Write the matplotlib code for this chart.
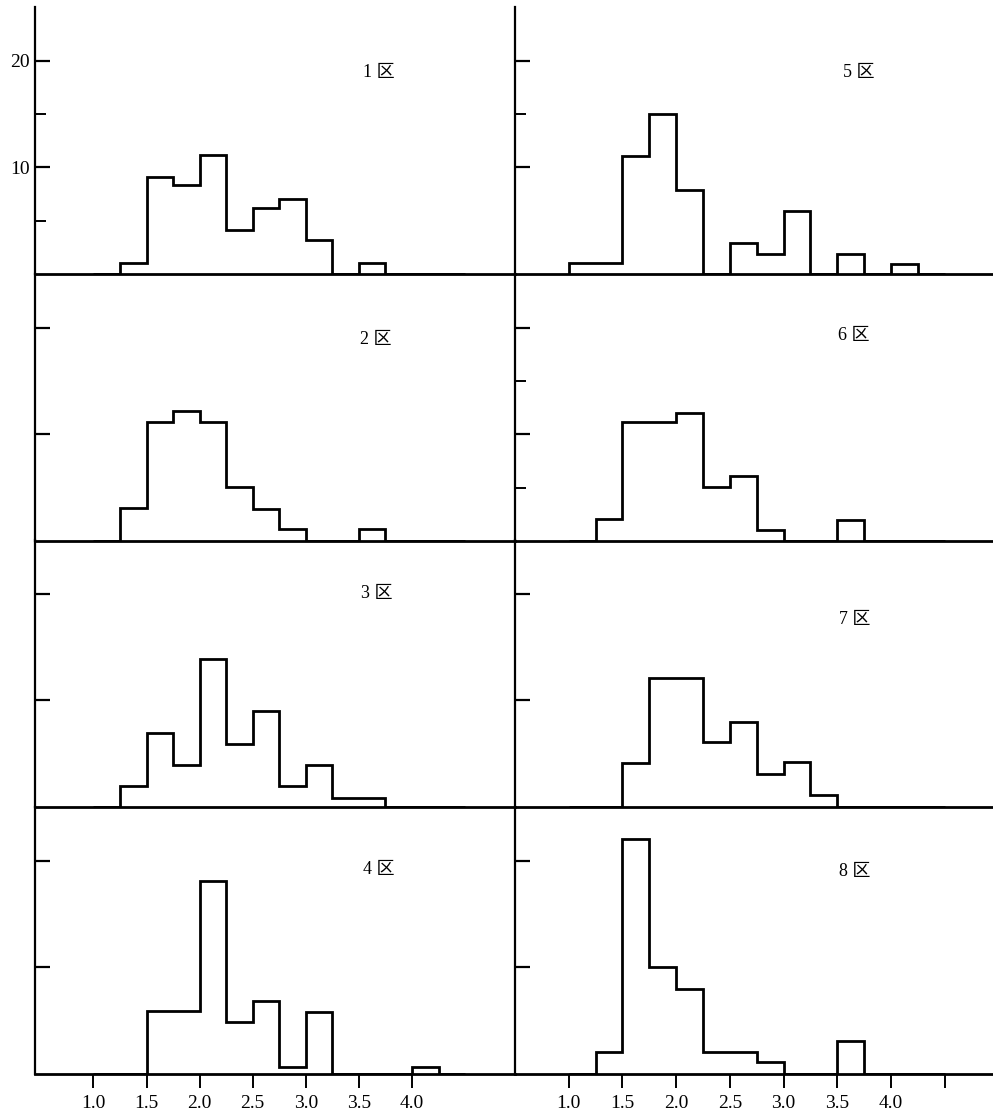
import matplotlib
matplotlib.use('Agg')
import matplotlib.pyplot as plt
import numpy as np

# size classes, 0.25 wide, from 1.0 to 4.5
edges = np.arange(1.0, 4.51, 0.25)

# frequency per class for each zone
zone_1 = [0, 1.0, 9.1, 8.3, 11.2, 4.1, 6.2, 7.0, 3.2, 0, 1.0, 0, 0, 0]
zone_2 = [0, 3.1, 11.2, 12.2, 11.2, 5.1, 3.0, 1.1, 0, 0, 1.1, 0, 0, 0]
zone_3 = [0, 2.0, 6.9, 3.9, 13.9, 5.9, 9.0, 2.0, 3.9, 0.85, 0.85, 0, 0, 0]
zone_4 = [0, 0, 5.9, 5.9, 18.1, 4.9, 6.8, 0.7, 5.8, 0, 0, 0, 0.7, 0]
zone_5 = [1.0, 1.0, 11.1, 15.0, 7.9, 0, 2.9, 1.9, 5.9, 0, 1.9, 0, 0.95, 0]
zone_6 = [0, 2.1, 11.2, 11.2, 12.0, 5.1, 6.1, 1.0, 0, 0, 2.0, 0, 0, 0]
zone_7 = [0, 0, 4.1, 12.1, 12.1, 6.1, 8.0, 3.1, 4.2, 1.1, 0, 0, 0, 0]
zone_8 = [0, 2.1, 22.0, 10.0, 8.0, 2.1, 2.1, 1.1, 0, 0, 3.05, 0, 0, 0]

zone_names = ['1 区', '2 区', '3 区', '4 区', '5 区', '6 区', '7 区', '8 区']

x_ticks = [1.0, 1.5, 2.0, 2.5, 3.0, 3.5, 4.0]
x_labels = ['1.0', '1.5', '2.0', '2.5', '3.0', '3.5', '4.0']
y_ticks = [10, 20]
y_labels = ['10', '20']

zones = [zone_1, zone_2, zone_3, zone_4, zone_5, zone_6, zone_7, zone_8]

# where the zone name sits inside each panel (data coords)
name_x = [3.54, 3.51, 3.52, 3.54, 3.55, 3.51, 3.52, 3.52]
name_y = [18.9, 18.9, 20.0, 19.2, 18.9, 19.3, 17.6, 19.0]
# short inner ticks at 5 / 15 where they were printed
minor_ticks = [[5, 15], [], [], [], [15], [5, 15], [], []]

W, H = 993, 1115
fig = plt.figure(figsize=(W / 100, H / 100), dpi=100)

serif = ['Liberation Serif', 'DejaVu Serif']
mixed = ['Liberation Serif', 'Noto Sans CJK SC']

baselines = [274, 541, 807, 1074]
row_h = 266.7
cols = [(35, 480, (0.45, 4.97)), (515, 478, (0.5, 4.95))]

for i, vals in enumerate(zones):
    c = i // 4
    r = i % 4
    x0, w, xlim = cols[c]
    ax = fig.add_axes([x0 / W, (H - baselines[r]) / H, w / W, row_h / H])
    ax.patch.set_alpha(0)

    ax.stairs(vals, edges, baseline=0, color='black', lw=2.0)

    ax.set_xlim(*xlim)
    ax.set_ylim(0, 25)

    ax.spines['top'].set_visible(False)
    ax.spines['right'].set_visible(False)
    ax.spines['left'].set_linewidth(1.6)
    ax.spines['bottom'].set_linewidth(2.0)

    ax.set_yticks(y_ticks)
    ax.set_yticks(minor_ticks[i], minor=True)
    ax.tick_params(axis='y', which='major', direction='in', length=11, width=1.6, pad=4)
    ax.tick_params(axis='y', which='minor', direction='in', length=8, width=1.4)
    if i == 0:
        ax.set_yticklabels(y_labels, fontsize=14, family=serif)
    else:
        ax.tick_params(axis='y', labelleft=False)

    if r == 3:
        ticks = list(x_ticks)
        labels = list(x_labels)
        if c == 1:
            ticks.append(4.5)
            labels.append('')
        ax.set_xticks(ticks)
        ax.set_xticklabels(labels, fontsize=14, family=serif)
        ax.tick_params(axis='x', direction='out', length=10, width=1.4, pad=5)
    else:
        ax.set_xticks([])

    ax.text(name_x[i], name_y[i], zone_names[i], fontsize=13, family=mixed,
            ha='left', va='center')

fig.savefig('out.png', dpi=100)
